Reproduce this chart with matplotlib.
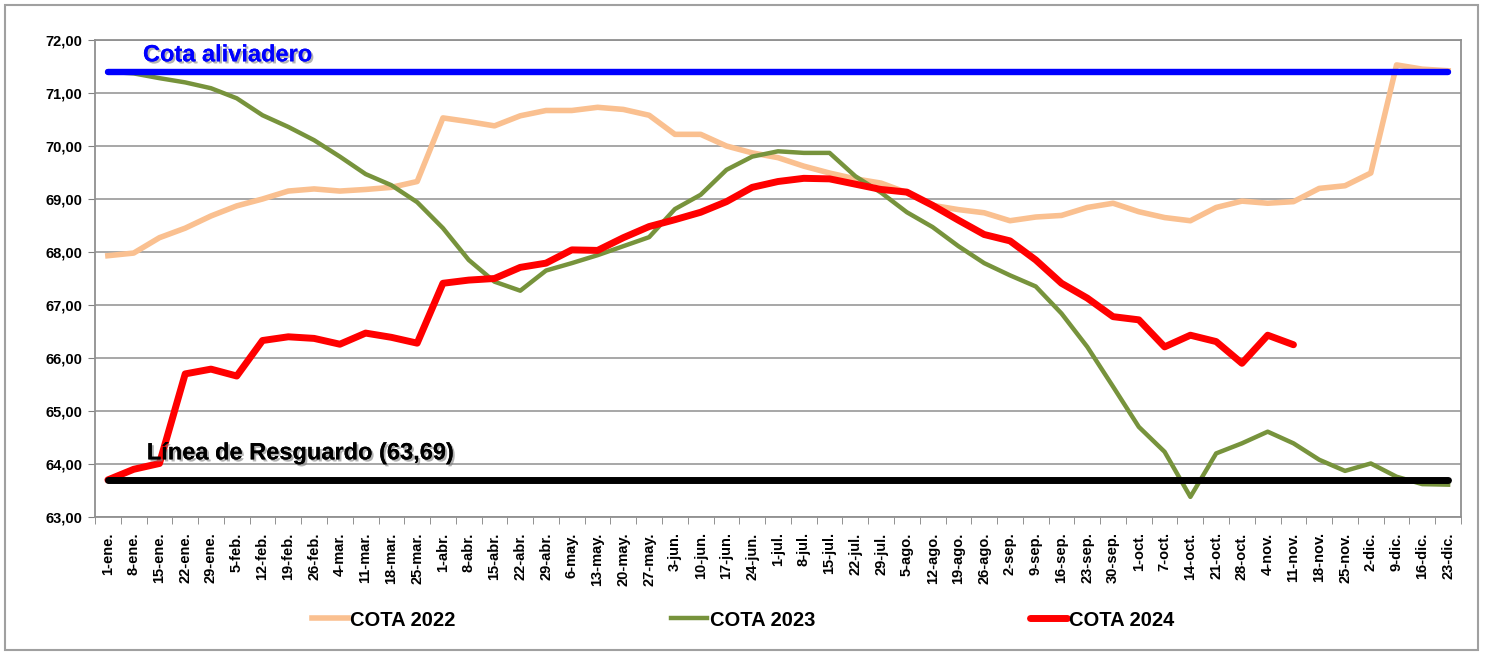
import numpy as np
import matplotlib
matplotlib.use("Agg")
import matplotlib.pyplot as plt
import matplotlib.patheffects as pe
from matplotlib.patches import Rectangle
from matplotlib.ticker import FuncFormatter, FixedLocator

plt.rcParams['font.family'] = ['Liberation Sans', 'DejaVu Sans']

# etiquetas semanales
fechas = ['1-ene.', '8-ene.', '15-ene.', '22-ene.', '29-ene.', '5-feb.', '12-feb.', '19-feb.',
          '26-feb.', '4-mar.', '11-mar.', '18-mar.', '25-mar.', '1-abr.', '8-abr.', '15-abr.',
          '22-abr.', '29-abr.', '6-may.', '13-may.', '20-may.', '27-may.', '3-jun.', '10-jun.',
          '17-jun.', '24-jun.', '1-jul.', '8-jul.', '15-jul.', '22-jul.', '29-jul.', '5-ago.',
          '12-ago.', '19-ago.', '26-ago.', '2-sep.', '9-sep.', '16-sep.', '23-sep.', '30-sep.',
          '1-oct.', '7-oct.', '14-oct.', '21-oct.', '28-oct.', '4-nov.', '11-nov.', '18-nov.',
          '25-nov.', '2-dic.', '9-dic.', '16-dic.', '23-dic.']

cota_2022 = [67.93, 67.98, 68.27, 68.45, 68.68, 68.87, 69.00, 69.15, 69.19, 69.15,
             69.18, 69.22, 69.33, 70.53, 70.46, 70.38, 70.57, 70.67, 70.67, 70.73,
             70.69, 70.58, 70.22, 70.22, 70.00, 69.87, 69.78, 69.62, 69.49, 69.38,
             69.30, 69.12, 68.88, 68.80, 68.74, 68.59, 68.66, 68.69, 68.84, 68.92,
             68.76, 68.65, 68.59, 68.84, 68.96, 68.92, 68.95, 69.20, 69.25, 69.49,
             71.53, 71.45, 71.42]

cota_2023 = [71.40, 71.37, 71.28, 71.20, 71.09, 70.90, 70.58, 70.36, 70.11, 69.80,
             69.47, 69.26, 68.94, 68.45, 67.85, 67.44, 67.27, 67.65, 67.79, 67.94,
             68.11, 68.28, 68.81, 69.08, 69.55, 69.80, 69.90, 69.87, 69.87, 69.43,
             69.12, 68.75, 68.47, 68.11, 67.79, 67.56, 67.35, 66.84, 66.21, 65.46,
             64.70, 64.23, 63.38, 64.20, 64.39, 64.61, 64.39, 64.08, 63.87, 64.01,
             63.76, 63.62, 63.61]

cota_2024 = [63.70, 63.90, 64.01, 65.70, 65.79, 65.66, 66.33, 66.40, 66.37, 66.26,
             66.47, 66.39, 66.28, 67.41, 67.47, 67.50, 67.71, 67.79, 68.04, 68.03,
             68.27, 68.48, 68.61, 68.75, 68.95, 69.22, 69.33, 69.39, 69.38, 69.28,
             69.18, 69.13, 68.88, 68.60, 68.33, 68.21, 67.85, 67.41, 67.13, 66.78,
             66.72, 66.21, 66.43, 66.31, 65.90, 66.43, 66.25]

cota_aliviadero = 71.40
linea_resguardo = 63.69

x = np.arange(len(fechas))
y2024 = np.full(len(fechas), np.nan)
y2024[:len(cota_2024)] = cota_2024

fig = plt.figure(figsize=(14.86, 6.55), dpi=100)
ax = fig.add_axes([95/1486, 1-517/655, (1461-95)/1486, (517-40)/655])

# marco exterior
fig.patches.append(Rectangle((5/1486, 5/655), 1473/1486, 645/655, transform=fig.transFigure,
                             fill=False, edgecolor='#a0a0a0', lw=1.5))

ax.plot(x, cota_2022, color='#FAC090', lw=4.0, label='COTA 2022', zorder=3)
ax.plot(x, cota_2023, color='#77933C', lw=3.2, label='COTA 2023', zorder=3)
ax.plot(x, y2024, color='#FF0000', lw=5.0, label='COTA 2024', zorder=4, solid_capstyle='round')
ax.plot(x, np.full(len(fechas), cota_aliviadero), color='#0000FF', lw=4.6,
        solid_capstyle='round', zorder=5, label='_nolegend_')
ax.plot(x, np.full(len(fechas), linea_resguardo), color='black', lw=5.0,
        solid_capstyle='round', zorder=5, label='_nolegend_')

sombra = [pe.withSimplePatchShadow(offset=(1.5, -1.5), shadow_rgbFace='#808080', alpha=0.6), pe.Normal()]
ax.text(1.36, 71.72, 'Cota aliviadero', color='#0000FF', fontsize=17, fontweight='bold',
        ha='left', va='center', path_effects=sombra, zorder=6)
ax.text(1.51, 64.21, 'Línea de Resguardo (63,69)', color='black', fontsize=17, fontweight='bold',
        ha='left', va='center', path_effects=sombra, zorder=6)

ax.set_xlim(-0.5, len(fechas) - 0.5)
ax.set_ylim(63, 72)
ax.set_yticks(np.arange(63, 72.5, 1))
ax.yaxis.set_major_formatter(FuncFormatter(lambda v, p: f'{v:.2f}'.replace('.', ',')))
ax.set_xticks(x)
ax.set_xticklabels(fechas, rotation=90, fontsize=10.5, fontweight='bold')
ax.xaxis.set_minor_locator(FixedLocator(np.arange(-0.5, len(fechas), 1)))
ax.tick_params(axis='x', which='major', length=0, pad=11)
ax.tick_params(axis='x', which='minor', length=5, color='#808080', direction='out')
ax.tick_params(axis='y', length=5, color='#808080', labelsize=10.5, pad=4)
for lab in ax.get_yticklabels():
    lab.set_fontweight('bold')

ax.grid(axis='y', color='#a0a0a0', lw=1.3)
ax.set_axisbelow(True)
for s in ax.spines.values():
    s.set_color('#909090')
    s.set_linewidth(1.3)

leg = fig.legend(loc='center', bbox_to_anchor=(0.5, 1-620/655), ncol=3, frameon=False,
                 handlelength=1.8, handletextpad=0.1, columnspacing=10.7,
                 prop={'weight': 'bold', 'size': 14.5})

fig.savefig('out.png', dpi=100)
